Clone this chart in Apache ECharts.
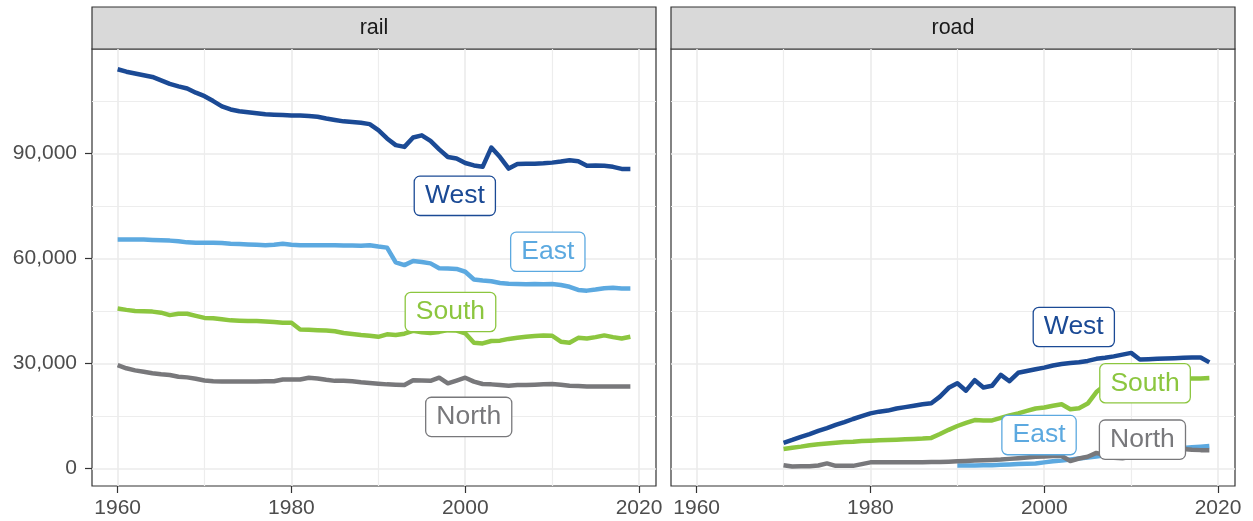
<!DOCTYPE html>
<html>
<head>
<meta charset="utf-8">
<script src="https://cdn.jsdelivr.net/npm/echarts@6/dist/echarts.min.js"></script>
<style>
  html, body { margin: 0; padding: 0; background: #fff; }
  #chart { width: 1253px; height: 521px; }
</style>
</head>
<body>
<div id="chart"></div>
<script>
// 年份
const railYears = [
  1960, 1961, 1962, 1963, 1964, 1965, 1966, 1967, 1968, 1969,
  1970, 1971, 1972, 1973, 1974, 1975, 1976, 1977, 1978, 1979,
  1980, 1981, 1982, 1983, 1984, 1985, 1986, 1987, 1988, 1989,
  1990, 1991, 1992, 1993, 1994, 1995, 1996, 1997, 1998, 1999,
  2000, 2001, 2002, 2003, 2004, 2005, 2006, 2007, 2008, 2009,
  2010, 2011, 2012, 2013, 2014, 2015, 2016, 2017, 2018, 2019
]
const roadYears = railYears.slice(10)      // 1970 起
const roadEastYears = railYears.slice(30)  // 1990 起

// rail
const railWest = [
  114100, 113400, 112900, 112400, 111900, 110900, 109900, 109200, 108600, 107400,
  106400, 105000, 103500, 102600, 102100, 101800, 101500, 101200, 101100, 101000,
  100900, 100900, 100700, 100500, 100000, 99600, 99200, 99000, 98800, 98400,
  96700, 94300, 92400, 91900, 94600, 95200, 93600, 91200, 89000, 88600,
  87300, 86600, 86200, 91700, 89000, 85700, 87000, 87100, 87100, 87200,
  87400, 87700, 88100, 87800, 86500, 86600, 86500, 86200, 85600, 85600
]
const railEast = [
  65400, 65400, 65400, 65400, 65300, 65200, 65100, 64900, 64600, 64500,
  64500, 64500, 64400, 64200, 64100, 64000, 63900, 63800, 63900, 64200,
  63900, 63800, 63800, 63800, 63800, 63800, 63700, 63700, 63600, 63800,
  63400, 63100, 58900, 58100, 59300, 59000, 58600, 57200, 57100, 57000,
  56200, 54000, 53700, 53500, 53000, 52800, 52700, 52600, 52700, 52600,
  52700, 52400, 51900, 51000, 50800, 51100, 51500, 51600, 51400, 51400
]
const railSouth = [
  45700, 45300, 45000, 44900, 44800, 44500, 43800, 44200, 44200, 43600,
  43000, 42900, 42600, 42300, 42200, 42100, 42100, 42000, 41800, 41600,
  41600, 39700, 39600, 39500, 39400, 39200, 38700, 38400, 38100, 37900,
  37600, 38300, 38100, 38500, 39300, 38900, 38700, 39000, 39500, 39400,
  38600, 35900, 35700, 36400, 36500, 37000, 37300, 37600, 37800, 38000,
  37900, 36200, 35900, 37300, 37100, 37500, 38000, 37500, 37100, 37600
]
const railNorth = [
  29500, 28600, 28000, 27600, 27200, 26900, 26700, 26200, 26000, 25600,
  25100, 24900, 24800, 24800, 24800, 24800, 24800, 24900, 24900, 25400,
  25400, 25400, 25900, 25700, 25300, 25000, 25000, 24900, 24600, 24400,
  24200, 24000, 23900, 23800, 25200, 25100, 25000, 25900, 24300, 25100,
  25900, 24800, 24100, 24000, 23800, 23600, 23800, 23800, 23900, 24000,
  24100, 23900, 23600, 23500, 23400, 23400, 23400, 23400, 23400, 23400
]

// road
const roadWest = [
  7300, 8100, 9000, 9800, 10700, 11500, 12400, 13200, 14100, 14900,
  15700, 16200, 16500, 17100, 17500, 17900, 18300, 18600, 20500, 23000,
  24300, 22200, 25200, 23100, 23600, 26700, 24900, 27300, 27800, 28300,
  28800, 29400, 29800, 30100, 30300, 30700, 31300, 31600, 32000, 32500,
  33000, 31100, 31200, 31300, 31400, 31500, 31600, 31700, 31700, 30300
]
const roadSouth = [
  5500, 5900, 6200, 6600, 6900, 7100, 7300, 7500, 7600, 7800,
  7900, 8000, 8100, 8200, 8300, 8400, 8500, 8700, 9800, 11000,
  12100, 13000, 13800, 13700, 13700, 14400, 15100, 15700, 16400, 17100,
  17400, 17900, 18300, 16900, 17200, 18500, 21800, 23800, 24800, 25200,
  25400, 25500, 25500, 25600, 25600, 25700, 25700, 25700, 25700, 25800
]
const roadNorth = [
  900, 500, 600, 600, 800, 1400, 700, 700, 700, 1200,
  1700, 1700, 1700, 1700, 1700, 1700, 1700, 1800, 1800, 1900,
  2000, 2100, 2200, 2300, 2400, 2500, 2700, 2900, 3100, 3300,
  3400, 3500, 3500, 2100, 2800, 3300, 4400, 3700, 3000, 2900,
  3300, 3600, 3900, 4200, 4500, 4800, 5500, 5300, 5200, 5200
]
const roadEast = [
  800, 800, 800, 900, 900, 1000, 1100, 1200, 1300, 1400,
  1700, 2000, 2200, 2500, 2800, 3100, 3400, 3700, 4000, 4200,
  4400, 4700, 4900, 5100, 5300, 5500, 5800, 6000, 6200, 6400
]

// 标签位置 (年份, 数值)
const labelNames = ['West', 'East', 'South', 'North']
const railLabelX = [1998.8, 2009.5, 1998.3, 2000.4]
const railLabelY = [77900, 61900, 44700, 14700]
const roadLabelX = [2003.4, 1999.4, 2011.6, 2011.3]
const roadLabelY = [40400, 9500, 24300, 8200]

// 刻度
const xTicks = [1960, 1980, 2000, 2020]
const xMinor = [1970, 1990, 2010]
const yTicks = [0, 30000, 60000, 90000]
const yMinor = [15000, 45000, 75000, 105000]
const panels = ['rail', 'road']

const colors = { West: '#1B4A95', East: '#5CA9E0', South: '#8CC63F', North: '#78787B' }
const font = 'Liberation Sans, Arial, sans-serif'

const grids = [
  { left: 92, top: 49, width: 564, height: 437 },
  { left: 671, top: 49, width: 564, height: 437 }
]

function pairs(xs, ys) {
  return xs.map((x, i) => [x, ys[i]])
}

function xAxes(gridIndex) {
  return [
    {
      type: 'value', gridIndex, min: 1957.05, max: 2021.95, position: 'bottom',
      axisLine: { show: false, onZero: false },
      axisTick: { show: true, length: 7, customValues: xTicks, lineStyle: { color: '#333', width: 1.2 } },
      axisLabel: { customValues: xTicks, margin: 12, fontSize: 21, color: '#4D4D4D', fontFamily: font, formatter: v => String(v) },
      splitLine: { show: true, lineStyle: { color: '#EBEBEB', width: 1.6 } }
    },
    {
      type: 'value', gridIndex, min: 1957.05, max: 2021.95, position: 'top',
      axisLine: { show: false, onZero: false },
      axisTick: { show: false, customValues: xMinor },
      axisLabel: { show: false, customValues: xMinor },
      splitLine: { show: true, lineStyle: { color: '#EDEDED', width: 1.2 } }
    }
  ]
}

function yAxes(gridIndex, showLabels) {
  return [
    {
      type: 'value', gridIndex, min: -5057, max: 119886, position: 'left',
      axisLine: { show: false, onZero: false },
      axisTick: { show: showLabels, length: 7, customValues: yTicks, lineStyle: { color: '#333', width: 1.2 } },
      axisLabel: { show: showLabels, customValues: yTicks, margin: 15, fontSize: 21, color: '#4D4D4D', fontFamily: font,
        formatter: v => v.toLocaleString('en-US') },
      splitLine: { show: true, lineStyle: { color: '#EBEBEB', width: 1.6 } }
    },
    {
      type: 'value', gridIndex, min: -5057, max: 119886, position: 'right',
      axisLine: { show: false, onZero: false },
      axisTick: { show: false, customValues: yMinor },
      axisLabel: { show: false, customValues: yMinor },
      splitLine: { show: true, lineStyle: { color: '#EDEDED', width: 1.2 } }
    }
  ]
}

function lineSeries(name, data, axisIndex) {
  return {
    name, type: 'line', data, xAxisIndex: axisIndex, yAxisIndex: axisIndex,
    showSymbol: false, symbol: 'none', silent: true, z: 3,
    lineStyle: { color: colors[name], width: 4.5, join: 'round' }
  }
}

function labelSeries(xs, ys, axisIndex) {
  return {
    type: 'scatter', xAxisIndex: axisIndex, yAxisIndex: axisIndex,
    symbolSize: 0, silent: true, z: 5,
    itemStyle: { opacity: 1 },
    data: labelNames.map((n, i) => ({
      value: [xs[i], ys[i]],
      name: n,
      label: { color: colors[n], borderColor: colors[n] }
    })),
    label: {
      show: true, position: 'inside', formatter: p => p.name, opacity: 1,
      fontSize: 26.5, fontFamily: font, lineHeight: 30,
      backgroundColor: '#fff', borderWidth: 1.3, borderRadius: 5, padding: [4, 10]
    }
  }
}

// 分面标题条
const strips = panels.map((p, i) => ({
  type: 'group',
  children: [
    {
      type: 'rect',
      shape: { x: grids[i].left, y: 7, width: grids[i].width, height: 42 },
      style: { fill: '#D9D9D9', stroke: '#333', lineWidth: 1.2 }
    },
    {
      type: 'text',
      x: grids[i].left + grids[i].width / 2, y: 28,
      style: { text: p, fill: '#1A1A1A', font: '21.5px ' + font, align: 'center', verticalAlign: 'middle' }
    }
  ]
}))

const chart = echarts.init(document.getElementById('chart'))

const option = {
  animation: false,
  backgroundColor: '#fff',
  grid: grids.map(g => ({ ...g, show: true, borderColor: '#333', borderWidth: 1.2, backgroundColor: 'transparent' })),
  xAxis: [...xAxes(0), ...xAxes(1)],
  yAxis: [...yAxes(0, true), ...yAxes(1, false)],
  graphic: strips,
  series: [
    // rail
    lineSeries('East', pairs(railYears, railEast), 0),
    lineSeries('North', pairs(railYears, railNorth), 0),
    lineSeries('South', pairs(railYears, railSouth), 0),
    lineSeries('West', pairs(railYears, railWest), 0),
    labelSeries(railLabelX, railLabelY, 0),
    // road
    lineSeries('East', pairs(roadEastYears, roadEast), 2),
    lineSeries('North', pairs(roadYears, roadNorth), 2),
    lineSeries('South', pairs(roadYears, roadSouth), 2),
    lineSeries('West', pairs(roadYears, roadWest), 2),
    labelSeries(roadLabelX, roadLabelY, 2)
  ]
}

chart.setOption(option)
</script>
</body>
</html>
